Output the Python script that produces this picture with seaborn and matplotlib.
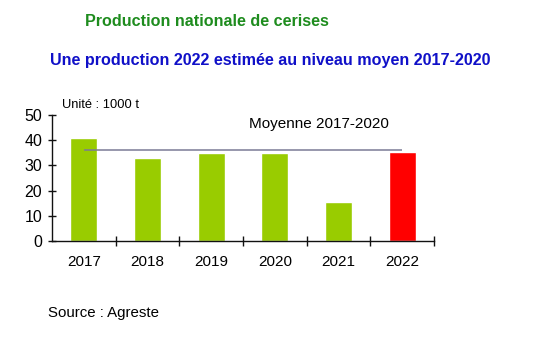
import matplotlib
matplotlib.use("Agg")
import matplotlib.pyplot as plt
import seaborn as sns
import numpy as np
import pandas as pd

years = ["2017", "2018", "2019", "2020", "2021", "2022"]
production = [40.9, 32.9, 35.0, 35.0, 15.5, 35.3]
bar_colors = ["#99CC00", "#99CC00", "#99CC00", "#99CC00", "#99CC00", "#FF0000"]
ref_years = ["2017", "2018", "2019", "2020"]

sns.set_theme(style="white")
plt.rcParams["font.family"] = ["Liberation Sans", "DejaVu Sans"]

df = pd.DataFrame({"annee": years, "production": production})
mean_ref = float(np.mean([p for y, p in zip(years, production) if y in ref_years]))

fig = plt.figure(figsize=(5.35, 3.4), dpi=100)
ax = fig.add_axes([52 / 535, 1 - 241 / 340, (434 - 52) / 535, (241 - 115) / 340])

sns.barplot(data=df, x="annee", y="production", hue="annee",
            palette=dict(zip(years, bar_colors)), legend=False,
            width=0.42, saturation=1, ax=ax)

ax.hlines(mean_ref, 0, len(years) - 1, color="#7a7a96", linewidth=1.1)
ax.text(3.7, 46.4, "Moyenne 2017-2020", ha="center", va="center",
        fontsize=11, color="#000000")

ax.set_xlim(-0.5, len(years) - 0.5)
ax.set_ylim(0, 50)
ax.set_yticks([0, 10, 20, 30, 40, 50])
ax.set_xlabel("")
ax.set_ylabel("")

for s in ["top", "right"]:
    ax.spines[s].set_visible(False)
for s in ["left", "bottom"]:
    ax.spines[s].set_color("#111111")
    ax.spines[s].set_linewidth(1.0)

ax.tick_params(axis="y", which="major", direction="inout", length=6, width=1,
               color="#111111", labelsize=11.5, labelcolor="#000000", pad=4, left=True)
ax.tick_params(axis="x", which="major", length=0, labelsize=11,
               labelcolor="#000000", pad=10)
ax.set_xticks(np.arange(0.5, len(years), 1.0), minor=True)
ax.tick_params(axis="x", which="minor", direction="inout", length=7, width=1,
               color="#111111", bottom=True)

fig.text(62 / 535, 1 - 105 / 340, "Unité : 1000 t", fontsize=9.3, ha="left",
         va="center", color="#000000")

fig.text(207 / 535, 1 - 21 / 340, "Production nationale de cerises",
         fontsize=11.6, fontweight="bold", color="#1E8C1E", ha="center", va="center")
fig.text(270 / 535, 1 - 61 / 340, "Une production 2022 estimée au niveau moyen 2017-2020",
         fontsize=11.6, fontweight="bold", color="#1010C8", ha="center", va="center")
fig.text(48 / 535, 1 - 313 / 340, "Source : Agreste", fontsize=10.8,
         ha="left", va="center", color="#000000")

fig.savefig("out.png", dpi=100)
